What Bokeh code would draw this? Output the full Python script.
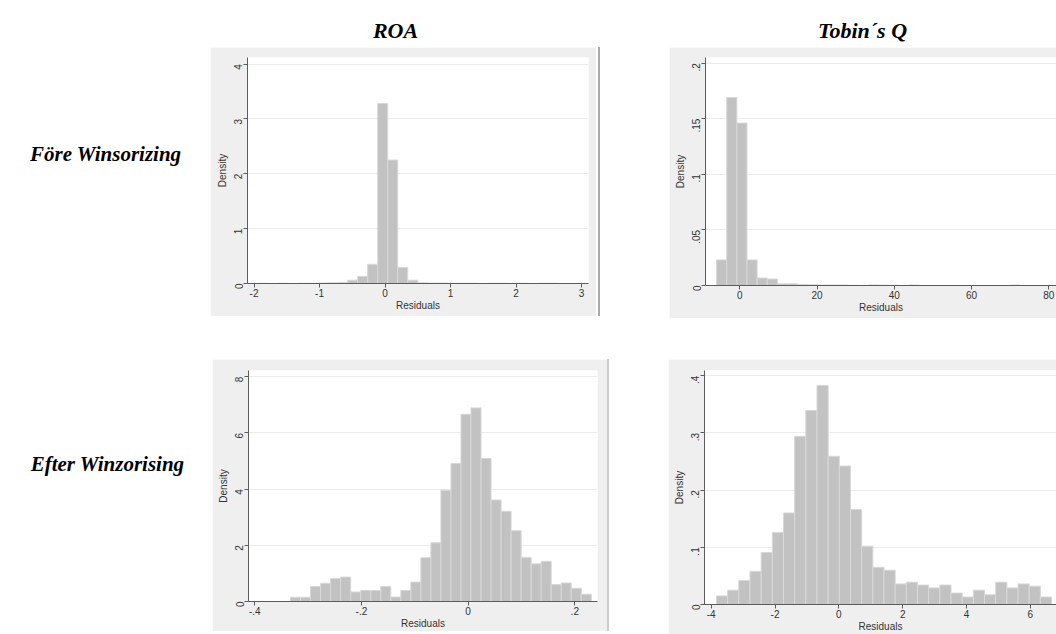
import math
import numpy as np
from bokeh.plotting import figure
from bokeh.models import Range1d, FixedTicker, Label, Spacer
from bokeh.layouts import row, column
from bokeh.embed import file_html
from bokeh.resources import INLINE

# ---------------- data ----------------
col_titles = ["ROA", "Tobin´s Q"]
row_titles = ["Före Winsorizing", "Efter Winzorising"]

# ROA, before winsorizing (density per bin)
roa_before_start = -1.948
roa_before_width = 0.153
roa_before_density = [0.004, 0.0, 0.004, 0.0, 0.004, 0.004, 0.008, 0.013, 0.02,
                      0.06, 0.13, 0.35, 3.28, 2.25, 0.29, 0.06, 0.013, 0.008,
                      0.008, 0.004, 0.004, 0.004, 0.0, 0.004, 0.004, 0.0, 0.004,
                      0.0, 0.004, 0.004]

# Tobin's Q, before winsorizing
tq_before_start = -6.0
tq_before_width = 2.62
tq_before_density = [0.023, 0.169, 0.146, 0.023, 0.0067, 0.0058, 0.0015, 0.0015,
                     0.001, 0.0007, 0.0005, 0.0005, 0.0005, 0.0002, 0.0, 0.0005,
                     0.0003, 0.0002, 0.0, 0.0004, 0.0, 0.0, 0.0, 0.0, 0.0, 0.0,
                     0.0, 0.0, 0.0, 0.0004, 0.0]

# ROA, after winsorizing
roa_after_start = -0.333
roa_after_width = 0.0188
roa_after_density = [0.15, 0.15, 0.53, 0.65, 0.82, 0.87, 0.34, 0.39, 0.39, 0.53,
                     0.16, 0.39, 0.69, 1.56, 2.09, 3.96, 4.91, 6.66, 6.89, 5.09,
                     3.61, 3.21, 2.52, 1.57, 1.34, 1.43, 0.60, 0.66, 0.47, 0.26]

# Tobin's Q, after winsorizing
tq_after_start = -3.835
tq_after_width = 0.35
tq_after_density = [0.015, 0.025, 0.042, 0.058, 0.091, 0.126, 0.160, 0.294, 0.339,
                    0.383, 0.259, 0.242, 0.166, 0.102, 0.065, 0.060, 0.036, 0.039,
                    0.034, 0.029, 0.034, 0.020, 0.013, 0.025, 0.017, 0.039, 0.029,
                    0.036, 0.032, 0.013]

roa_before_xticks = [-2, -1, 0, 1, 2, 3]
roa_before_xlabels = ["-2", "-1", "0", "1", "2", "3"]
roa_before_yticks = [0, 1, 2, 3, 4]
roa_before_ylabels = ["0", "1", "2", "3", "4"]

tq_before_xticks = [0, 20, 40, 60, 80]
tq_before_xlabels = ["0", "20", "40", "60", "80"]
tq_before_yticks = [0, 0.05, 0.1, 0.15, 0.2]
tq_before_ylabels = ["0", ".05", ".1", ".15", ".2"]

roa_after_xticks = [-0.4, -0.2, 0, 0.2]
roa_after_xlabels = ["-.4", "-.2", "0", ".2"]
roa_after_yticks = [0, 2, 4, 6, 8]
roa_after_ylabels = ["0", "2", "4", "6", "8"]

tq_after_xticks = [-4, -2, 0, 2, 4, 6]
tq_after_xlabels = ["-4", "-2", "0", "2", "4", "6"]
tq_after_yticks = [0, 0.1, 0.2, 0.3, 0.4]
tq_after_ylabels = ["0", ".1", ".2", ".3", ".4"]

# ---------------- styles ----------------
GRAY = "#efefef"
BAR = "#c2c2c2"
BAR_LINE = "#d8d8d8"
AXIS = "#5c5c5c"
TXT = "#333333"
SANS = "Liberation Sans"
SERIF = "Liberation Serif"


def panel(w, h, borders, xr, yr, xticks, xlabels, yticks, ylabels, start, bw, dens):
    l, r, t, b = borders
    p = figure(width=w, height=h, x_range=Range1d(*xr), y_range=Range1d(*yr),
               toolbar_location=None, output_backend="svg",
               min_border_left=l, min_border_right=r,
               min_border_top=t, min_border_bottom=b,
               background_fill_color="white", border_fill_color=GRAY,
               outline_line_color=None)
    edges = start + bw * np.arange(len(dens) + 1)
    p.quad(left=edges[:-1], right=edges[1:], bottom=0, top=dens,
           fill_color=BAR, line_color=BAR_LINE, line_width=1)
    p.xaxis.ticker = FixedTicker(ticks=xticks)
    p.xaxis.major_label_overrides = {float(k): v for k, v in zip(xticks, xlabels)}
    p.yaxis.ticker = FixedTicker(ticks=yticks)
    p.yaxis.major_label_overrides = {float(k): v for k, v in zip(yticks, ylabels)}
    p.xgrid.visible = False
    p.ygrid.ticker = FixedTicker(ticks=yticks)
    p.ygrid.grid_line_color = "#ececec"
    for ax in p.axis:
        ax.axis_line_color = AXIS
        ax.major_tick_line_color = AXIS
        ax.minor_tick_line_color = None
        ax.major_tick_out = 4
        ax.major_tick_in = 0
        ax.major_label_text_font = SANS
        ax.major_label_text_font_size = "10px"
        ax.major_label_text_color = TXT
        ax.axis_label_text_font = SANS
        ax.axis_label_text_font_size = "10px"
        ax.axis_label_text_font_style = "normal"
        ax.axis_label_text_color = TXT
    p.xaxis.axis_label = "Residuals"
    p.yaxis.axis_label = "Density"
    p.xaxis.major_label_standoff = 1
    p.xaxis.axis_label_standoff = 0
    p.yaxis.major_label_standoff = 5
    p.yaxis.axis_label_standoff = 0
    p.yaxis.major_label_orientation = math.pi / 2
    return p


def blank(w, h):
    p = figure(width=w, height=h, x_range=Range1d(0, w), y_range=Range1d(0, h),
               toolbar_location=None, output_backend="svg", min_border=0,
               background_fill_color="white", border_fill_color="white",
               outline_line_color=None)
    p.axis.visible = False
    p.grid.visible = False
    return p


tl = panel(386, 269, (37, 8, 10, 33), (-2.1, 3.107), (0, 4.12),
           roa_before_xticks, roa_before_xlabels, roa_before_yticks, roa_before_ylabels,
           roa_before_start, roa_before_width, roa_before_density)
tr = panel(387, 271, (36, 0, 6, 30), (-8.88, 82.0), (0, 0.205),
           tq_before_xticks, tq_before_xlabels, tq_before_yticks, tq_before_ylabels,
           tq_before_start, tq_before_width, tq_before_density)
bl = panel(395, 272, (36, 10, 9, 29), (-0.4118, 0.2426), (0, 8.22),
           roa_after_xticks, roa_after_xlabels, roa_after_yticks, roa_after_ylabels,
           roa_after_start, roa_after_width, roa_after_density)
br = panel(388, 275, (36, 0, 11, 26), (-4.21, 6.82), (0, 0.409),
           tq_after_xticks, tq_after_xlabels, tq_after_yticks, tq_after_ylabels,
           tq_after_start, tq_after_width, tq_after_density)

# column titles
title_fig = blank(846, 47)
for xpos, txt in zip([185, 652], col_titles):
    title_fig.add_layout(Label(x=xpos, y=17, text=txt, text_font=SERIF,
                               text_font_size="22px", text_font_style="bold italic",
                               text_align="center", text_baseline="alphabetic",
                               text_color="black"))

# row titles
left_fig = blank(210, 634)
for (xpos, ypos), txt in zip([(181, 481), (184, 171)], row_titles):
    left_fig.add_layout(Label(x=xpos, y=ypos, text=txt, text_font=SERIF,
                              text_font_size="21px", text_font_style="bold italic",
                              text_align="right", text_baseline="alphabetic",
                              text_color="black"))

line1 = Spacer(width=2, height=269, styles={"background-color": "#a9a9a9"})
line2 = Spacer(width=2, height=272, styles={"background-color": "#cdcdcd"})

top_row = row(tl, Spacer(width=2, height=269), line1, Spacer(width=69, height=271), tr)
bottom_row = row(Spacer(width=2, height=272), bl, line2, Spacer(width=59, height=272), br)
right_col = column(title_fig, top_row, Spacer(width=846, height=41), bottom_row)
layout = row(left_fig, right_col)

open("out.html", "w").write(file_html(layout, INLINE))
